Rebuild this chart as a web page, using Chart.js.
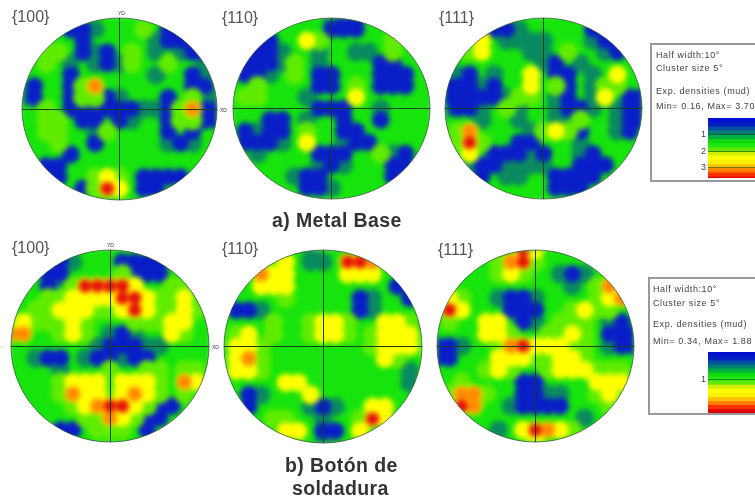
<!DOCTYPE html>
<html>
<head>
<meta charset="utf-8">
<script src="https://cdn.jsdelivr.net/npm/chart.js@4"></script>
<style>
html, body { margin: 0; padding: 0; background: #fff; }
#page { position: relative; width: 755px; height: 500px; overflow: hidden; font-family: "Liberation Sans", sans-serif; }
#page canvas { position: absolute; }
.t { position: absolute; white-space: nowrap; line-height: 1; transform: translateY(-50%); filter: blur(0.45px); }
.pole { font-size: 16px; color: #555; }
.dir { font-size: 5px; color: #333; }
.title { font-size: 19.5px; font-weight: bold; color: #333; letter-spacing: 0.4px; }
.note { font-size: 9px; color: #444; letter-spacing: 0.6px; }
.box { position: absolute; border: 2px solid #999; box-sizing: border-box; }
</style>
</head>
<body>
<div id="page"></div>
<script>
// density band on a 17 x 17 grid, top row first
// 0 blue, 1 teal, 2 green, 3 light green, 4 yellow, 5 orange, 6 red
const gridAxis = [-1, -0.875, -0.75, -0.625, -0.5, -0.375, -0.25, -0.125, 0, 0.125, 0.25, 0.375, 0.5, 0.625, 0.75, 0.875, 1];

const base100 = ["22222222222222222", "22220012223200222", "22222022222100022", "22332010232121002", "22321210132232212", "22220222222122012", "20220352222222002", "10220330122202311", "22320000001103500", "22332002012203300", "22332213222202022", "22232202222210122", "22220222222222222", "22002222222222222", "22202234320000222", "22222036420022222", "22222222222222222"];
const base110 = ["22222222100222222", "22222222000222222", "22002243222223222", "20001221221123222", "20001321222200222", "20012320022200022", "22322220023200022", "23322212224222222", "22222220002212222", "22200212202202222", "20100232200222222", "20001242210022222", "22122220002231022", "22222221012220022", "22222100222220222", "22222200122222222", "22222222222222222"];
const base111 = ["22222222222222222", "22220012222200222", "22342111122210022", "22342221123221022", "22222222102122222", "21021224200212422", "00010224230213322", "00000133210214200", "10012312210012100", "22212212211322100", "23522221343022102", "23632200222122222", "22420001022102222", "22100111122000222", "22202112200002222", "22222222200022222", "22222222222222222"];
const weld100 = ["22222222222222222", "22220122200002222", "22200222230002222", "22201366664223322", "22233444466433422", "22334443346433432", "34333432223334422", "55223432101224322", "22222221000112222", "22100210010022222", "22221222322332332", "22223444244432542", "22223544345432322", "22222345664300222", "22222233543002222", "22220023332022222", "22222222222222222"];
const weld110 = ["22222221222222222", "22223421126652222", "22254422224442222", "22244422222222022", "22222322222012202", "20012222222012222", "22223223443224432", "23423223443234442", "24432222222234443", "24532222222224322", "24432222222222212", "22222442222222212", "22012224222222222", "22022221012244222", "22223322122364222", "22222442002422222", "22222222122222222"];
const weld111 = ["22222226422222222", "22222356322222222", "22222343221012222", "22222222222123522", "24322100122223452", "26422200022343322", "23224420123332102", "22224432233432000", "00122356444332100", "00222444334432222", "22223432234443332", "22322220022224442", "23553220011223432", "22652210000222322", "22222222222212222", "22222124654322222", "22222222422222222"];

// colour bar steps, top to bottom
const barColours = ["#0010d0", "#0020c0", "#0050a0", "#008070", "#00b040", "#10d810", "#20e810", "#60e800", "#d0f000", "#ffff00", "#fff000", "#ffc000", "#ff8000", "#f83000", "#e00000"];
const barStepsA = [0.25, 0.25, 0.25, 0.25, 0.25, 0.25, 0.25, 0.25, 0.25, 0.25, 0.25, 0.25, 0.25, 0.25, 0.1];
const barStepsB = [0.145, 0.145, 0.145, 0.145, 0.145, 0.145, 0.145, 0.145, 0.145, 0.145, 0.145, 0.145, 0.145, 0.145, 0.15];
const barTicksA = [1, 2, 3];
const barTicksB = [1];

const page = document.getElementById("page");

const addText = (text, cls, x, y) => {
    const el = document.createElement("div");
    el.className = "t " + cls;
    el.textContent = text;
    el.style.left = x + "px";
    el.style.top = y + "px";
    page.appendChild(el);
};

const addCanvas = (x, y, w, h) => {
    const c = document.createElement("canvas");
    c.width = w;
    c.height = h;
    c.style.left = x + "px";
    c.style.top = y + "px";
    page.appendChild(c);
    return c;
};

const ellipsePath = (chart) => {
    const { ctx, chartArea: a } = chart;
    ctx.beginPath();
    ctx.ellipse((a.left + a.right) / 2, (a.top + a.bottom) / 2, (a.right - a.left) / 2, (a.bottom - a.top) / 2, 0, 0, Math.PI * 2);
};

// the marks get blurred together, then cut to the disc, grid comes on top after
const discPlugin = {
    id: "disc",
    beforeDatasetsDraw(chart) {
        const ctx = chart.ctx;
        ctx.save();
        ctx.fillStyle = "#16e40c";
        ctx.fillRect(0, 0, chart.width, chart.height);
        ctx.restore();
    },
    afterDatasetsDraw(chart) {
        const ctx = chart.ctx;
        const copy = document.createElement("canvas");
        copy.width = chart.width;
        copy.height = chart.height;
        copy.getContext("2d").drawImage(chart.canvas, 0, 0);
        ctx.save();
        ctx.clearRect(0, 0, chart.width, chart.height);
        ellipsePath(chart);
        ctx.clip();
        ctx.filter = "blur(2.6px)";
        ctx.drawImage(copy, 0, 0);
        ctx.restore();
    },
    afterDraw(chart) {
        const ctx = chart.ctx;
        ctx.save();
        ellipsePath(chart);
        ctx.strokeStyle = "rgba(40,70,40,0.7)";
        ctx.lineWidth = 1;
        ctx.stroke();
        ctx.restore();
    },
};

// first one is drawn on top
const layers = [
    { test: (v) => v === 6, color: "#e4100a", radius: 6 },
    { test: (v) => v >= 5, color: "#ff8a00", radius: 7.5 },
    { test: (v) => v >= 4, color: "#ffff00", radius: 9 },
    { test: (v) => v >= 3, color: "#60ec00", radius: 10 },
    { test: (v) => v === 0, color: "#0a1ec8", radius: 8.5 },
    { test: (v) => v <= 1, color: "#0a8a60", radius: 9.5 },
];

const crossAxis = {
    type: "linear",
    min: -1,
    max: 1,
    ticks: { stepSize: 1, display: false },
    border: { display: false },
    grid: {
        z: 1,
        drawTicks: false,
        color: (c) => (c.tick.value === 0 ? "#17401c" : "rgba(0,0,0,0)"),
    },
};

const drawFigure = (rows, box) => {
    const points = [];
    rows.forEach((row, j) => {
        row.split("").forEach((d, i) => {
            points.push({ x: gridAxis[i], y: -gridAxis[j], v: Number(d) });
        });
    });
    new Chart(addCanvas(box.x - 2, box.y - 2, box.w + 4, box.h + 4), {
        type: "scatter",
        data: {
            datasets: layers.map((l) => ({
                data: points.filter((p) => l.test(p.v)),
                backgroundColor: l.color,
                borderWidth: 0,
                pointRadius: l.radius,
                pointHoverRadius: l.radius,
            })),
        },
        options: {
            responsive: false,
            animation: false,
            events: [],
            layout: { padding: 2, autoPadding: false },
            plugins: { legend: { display: false }, tooltip: { enabled: false } },
            scales: { x: crossAxis, y: crossAxis },
        },
        plugins: [discPlugin],
    });
};

const drawBar = (steps, ticks, max, x, y, h) => {
    new Chart(addCanvas(x, y, 100, h), {
        type: "bar",
        data: {
            labels: [""],
            datasets: steps.map((s, i) => ({
                data: [s],
                backgroundColor: barColours[i],
                barPercentage: 1,
                categoryPercentage: 1,
            })),
        },
        options: {
            responsive: false,
            animation: false,
            events: [],
            layout: { padding: 0, autoPadding: false },
            plugins: { legend: { display: false }, tooltip: { enabled: false } },
            scales: {
                x: { stacked: true, display: false },
                y: {
                    stacked: true,
                    reverse: true,
                    min: 0,
                    max: max,
                    border: { display: false },
                    grid: { z: 1, drawTicks: false, color: "rgba(20,70,30,0.6)" },
                    ticks: { color: "#444", font: { size: 9, family: "Liberation Sans" }, padding: 2, autoSkip: false },
                    afterBuildTicks: (axis) => { axis.ticks = ticks.map((value) => ({ value })); },
                    afterFit: (axis) => {
                        axis.width = 48;
                        axis.paddingTop = 0;
                        axis.paddingBottom = 0;
                    },
                },
            },
        },
    });
};

drawFigure(base100, { x: 22, y: 18, w: 195, h: 182 });
drawFigure(base110, { x: 233, y: 18, w: 197, h: 181 });
drawFigure(base111, { x: 445, y: 18, w: 197, h: 181 });
drawFigure(weld100, { x: 11, y: 250, w: 198, h: 192 });
drawFigure(weld110, { x: 224, y: 250, w: 198, h: 193 });
drawFigure(weld111, { x: 437, y: 250, w: 197, h: 192 });

addText("{100}", "pole", 12, 17);
addText("{110}", "pole", 222, 18);
addText("{111}", "pole", 439, 18);
addText("{100}", "pole", 12, 248);
addText("{110}", "pole", 222, 249);
addText("{111}", "pole", 438, 250);

addText("YD", "dir", 118, 13);
addText("XD", "dir", 220, 110);
addText("YD", "dir", 107, 245);
addText("XD", "dir", 212, 347);

addText("a) Metal Base", "title", 272, 221);
addText("b) Botón de", "title", 285, 466);
addText("soldadura", "title", 292, 489);

const addBox = (x, y, h) => {
    const b = document.createElement("div");
    b.className = "box";
    b.style.cssText = `left:${x}px;top:${y}px;width:130px;height:${h}px`;
    page.appendChild(b);
};

addBox(650, 43, 139);
addText("Half width:10°", "note", 656, 55);
addText("Cluster size 5°", "note", 656, 68);
addText("Exp. densities (mud)", "note", 656, 91);
addText("Min= 0.16, Max= 3.70", "note", 656, 106);
drawBar(barStepsA, barTicksA, 3.6, 660, 118, 60);

addBox(648, 277, 138);
addText("Half width:10°", "note", 653, 289);
addText("Cluster size 5°", "note", 653, 303);
addText("Exp. densities (mud)", "note", 653, 324);
addText("Min= 0.34, Max= 1.88", "note", 653, 341);
drawBar(barStepsB, barTicksB, 2.18, 660, 352, 61);
</script>
</body>
</html>
